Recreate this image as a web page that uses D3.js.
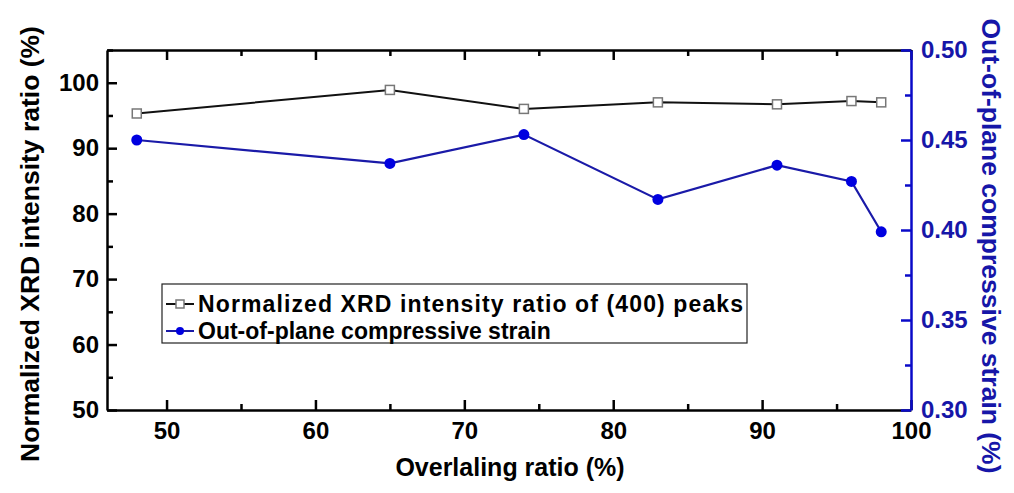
<!DOCTYPE html>
<html>
<head>
<meta charset="utf-8">
<script src="https://cdn.jsdelivr.net/npm/d3@7"></script>
<style>
  body { margin: 0; background: #fff; }
  svg { font-family: "Liberation Sans", Arial, sans-serif; font-weight: bold; }
  .domain { stroke-width: 2.5px; }
</style>
</head>
<body>
<svg width="1014" height="493"></svg>
<script>
// data
var overlap = [48, 65, 74, 83, 91, 96, 98];
var xrdRatio = [95.3, 98.9, 96.0, 97.0, 96.7, 97.2, 97.0];
var strain = [0.450, 0.437, 0.453, 0.417, 0.436, 0.427, 0.399];

var xTicks = [50, 60, 70, 80, 90, 100];
var yLeftTicks = [50, 60, 70, 80, 90, 100];
var yRightTicks = [0.30, 0.35, 0.40, 0.45, 0.50];

var legendLabels = ["Normalized XRD intensity ratio of (400) peaks", "Out-of-plane compressive strain"];

var blue = "#0a0ac8";
var blueText = "#1616a8";

/* SVG */
var svg = d3.select("svg");
var plotLeft = 107, plotRight = 911, plotTop = 50, plotBottom = 410;

/* SCALES */
var x = d3.scaleLinear().domain([46, 100]).range([plotLeft, plotRight]);
var yL = d3.scaleLinear().domain([50, 105]).range([plotBottom, plotTop]);
var yR = d3.scaleLinear().domain([0.30, 0.50]).range([plotBottom, plotTop]);

/* AXES */
function minors(major, step) {
	var out = [];
	major.forEach(function (v) { out.push(v + step); });
	return out;
}

function styleTicks(g, color) {
	g.selectAll(".tick line")
		.attr("stroke", color)
		.attr("stroke-width", 2.5);
}

// bottom
svg.append("g")
	.attr("transform", `translate(0,${plotBottom})`)
	.call(d3.axisBottom(x).tickValues(minors(xTicks.slice(0, -1), 5)).tickSize(-6).tickFormat(""))
	.call(function (g) { g.select(".domain").remove(); styleTicks(g, "#000"); });
svg.append("g")
	.attr("transform", `translate(0,${plotBottom})`)
	.call(d3.axisBottom(x).tickValues(xTicks).tickSize(-10).tickSizeOuter(0).tickPadding(12).tickFormat(d3.format("d")))
	.call(function (g) {
		styleTicks(g, "#000");
		g.select(".domain").attr("stroke", "#000");
		g.selectAll("text").attr("font-size", 24).attr("fill", "#000").attr("font-weight", "bold");
	});

// top mirror
svg.append("g")
	.attr("transform", `translate(0,${plotTop})`)
	.call(d3.axisTop(x).tickValues(minors(xTicks.slice(0, -1), 5)).tickSize(-6).tickFormat(""))
	.call(function (g) { g.select(".domain").remove(); styleTicks(g, "#000"); });
svg.append("g")
	.attr("transform", `translate(0,${plotTop})`)
	.call(d3.axisTop(x).tickValues(xTicks).tickSize(-10).tickSizeOuter(0).tickFormat(""))
	.call(function (g) { styleTicks(g, "#000"); g.select(".domain").attr("stroke", "#000"); });

// left
svg.append("g")
	.attr("transform", `translate(${plotLeft},0)`)
	.call(d3.axisLeft(yL).tickValues(minors(yLeftTicks, 5)).tickSize(-6).tickFormat(""))
	.call(function (g) { g.select(".domain").remove(); styleTicks(g, "#000"); });
svg.append("g")
	.attr("transform", `translate(${plotLeft},0)`)
	.call(d3.axisLeft(yL).tickValues(yLeftTicks).tickSize(-10).tickSizeOuter(0).tickPadding(8).tickFormat(d3.format("d")))
	.call(function (g) {
		styleTicks(g, "#000");
		g.select(".domain").attr("stroke", "#000");
		g.selectAll("text").attr("font-size", 24).attr("fill", "#000").attr("font-weight", "bold");
	});

// right (blue)
svg.append("g")
	.attr("transform", `translate(${plotRight},0)`)
	.call(d3.axisRight(yR).tickValues(minors(yRightTicks.slice(0, -1), 0.025)).tickSize(-6).tickFormat(""))
	.call(function (g) {
		g.select(".domain").remove();
		styleTicks(g, blue);
	});
svg.append("g")
	.attr("transform", `translate(${plotRight},0)`)
	.call(d3.axisRight(yR).tickValues(yRightTicks).tickSize(-10).tickSizeOuter(0).tickPadding(10).tickFormat(d3.format(".2f")))
	.call(function (g) {
		g.select(".domain").attr("stroke", blue);
		styleTicks(g, blue);
		g.selectAll("text").attr("font-size", 24).attr("fill", blueText).attr("font-weight", "bold");
	});

/* AXIS TITLES */
svg.append("text")
	.attr("x", 510)
	.attr("y", 476)
	.attr("text-anchor", "middle")
	.attr("font-size", 25)
	.text("Overlaling ratio (%)");

svg.append("text")
	.attr("transform", `translate(39,244) rotate(-90)`)
	.attr("text-anchor", "middle")
	.attr("font-size", 26.5)
	.text("Normalized XRD intensity ratio (%)");

svg.append("text")
	.attr("transform", `translate(982,246) rotate(90)`)
	.attr("text-anchor", "middle")
	.attr("font-size", 26.5)
	.attr("fill", blueText)
	.text("Out-of-plane compressive strain (%)");

/* LINES */
var lineXrd = d3.line()
	.x(function (d, i) { return x(overlap[i]); })
	.y(function (d) { return yL(d); });
var lineStrain = d3.line()
	.x(function (d, i) { return x(overlap[i]); })
	.y(function (d) { return yR(d); });

svg.append("path")
	.datum(strain)
	.attr("d", lineStrain)
	.attr("fill", "none")
	.attr("stroke", "#1a1aa8")
	.attr("stroke-width", 2.2);

svg.append("path")
	.datum(xrdRatio)
	.attr("d", lineXrd)
	.attr("fill", "none")
	.attr("stroke", "#111")
	.attr("stroke-width", 2);

/* MARKERS */
svg.append("g")
	.selectAll("rect")
	.data(xrdRatio)
	.enter()
	.append("rect")
	.attr("x", function (d, i) { return x(overlap[i]) - 4.5; })
	.attr("y", function (d) { return yL(d) - 4.5; })
	.attr("width", 9)
	.attr("height", 9)
	.attr("fill", "#fff")
	.attr("stroke", "#777")
	.attr("stroke-width", 1.5);

svg.append("g")
	.selectAll("circle")
	.data(strain)
	.enter()
	.append("circle")
	.attr("cx", function (d, i) { return x(overlap[i]); })
	.attr("cy", function (d) { return yR(d); })
	.attr("r", 5.5)
	.attr("fill", "#0000e0");

/* LEGEND */
var legend = svg.append("g").attr("transform", "translate(162,284)");
legend.append("rect")
	.attr("width", 585)
	.attr("height", 59)
	.attr("fill", "#fff")
	.attr("stroke", "#222")
	.attr("stroke-width", 1.2);

var rows = legend.selectAll("g.row")
	.data(legendLabels)
	.enter()
	.append("g")
	.attr("class", "row")
	.attr("transform", function (d, i) { return `translate(0,${20 + i * 27})`; });

rows.append("line")
	.attr("x1", 4).attr("x2", 32)
	.attr("stroke", function (d, i) { return i === 0 ? "#111" : "#1a1aa8"; })
	.attr("stroke-width", 2);

rows.filter(function (d, i) { return i === 0; })
	.append("rect")
	.attr("x", 14).attr("y", -4).attr("width", 8).attr("height", 8)
	.attr("fill", "#fff").attr("stroke", "#777").attr("stroke-width", 1.5);

rows.filter(function (d, i) { return i === 1; })
	.append("circle")
	.attr("cx", 18).attr("r", 4)
	.attr("fill", "#0000e0");

rows.append("text")
	.attr("x", 36)
	.attr("y", 8)
	.attr("font-size", 23)
	.text(function (d) { return d; })
	.attr("textLength", function (d, i) { return i === 0 ? 545 : null; });
</script>
</body>
</html>
